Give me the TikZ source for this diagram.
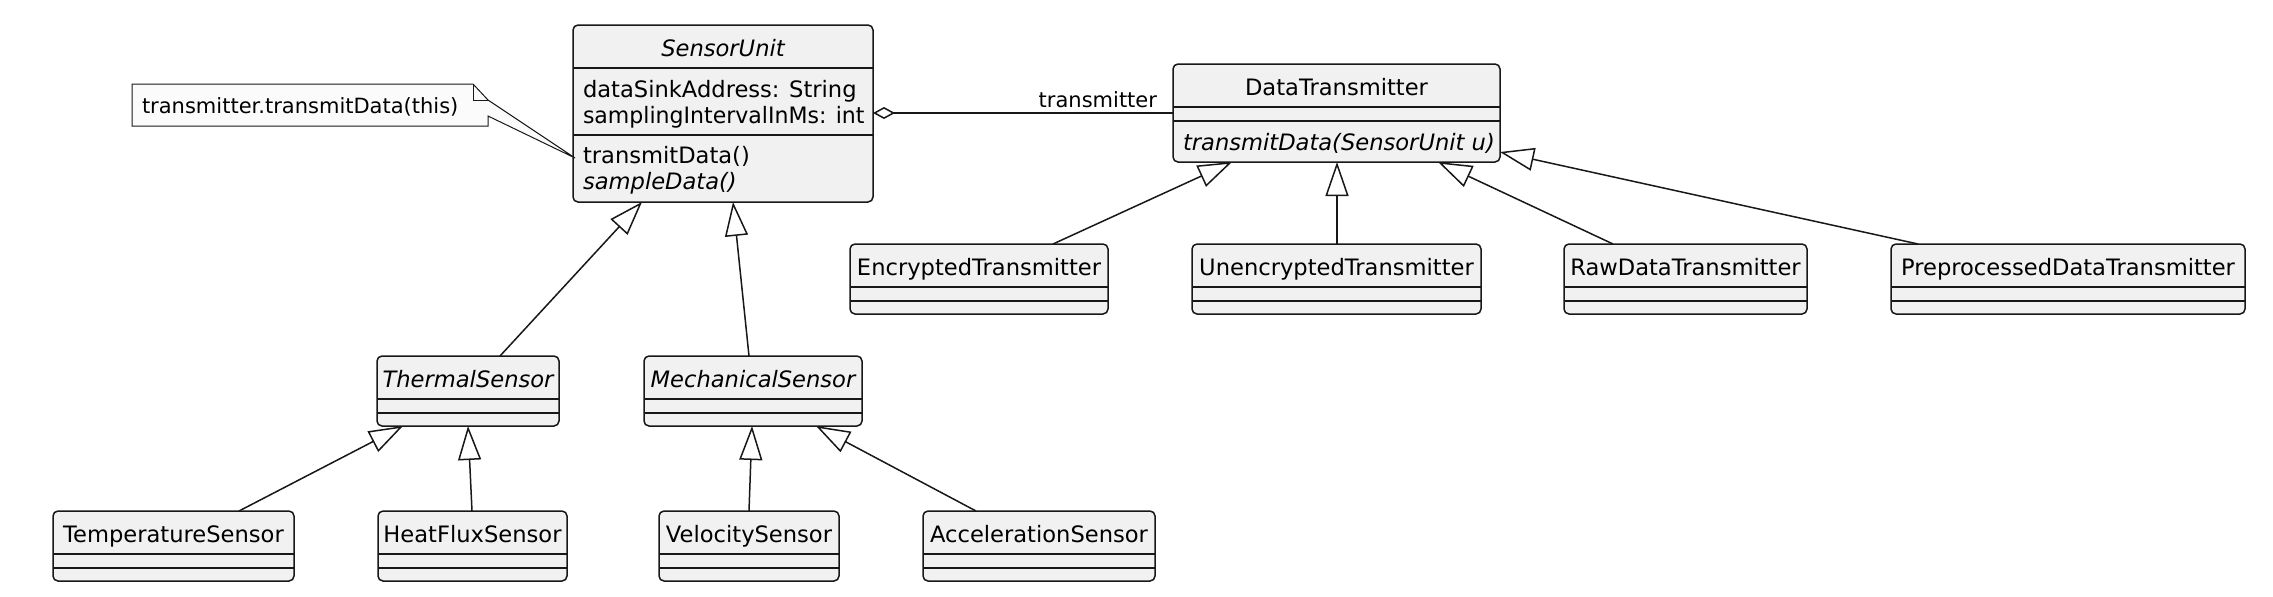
\documentclass[tikz,border=0pt]{standalone}
\usepackage{fontspec}
\setmainfont{DejaVu Sans}
\usetikzlibrary{arrows.meta,calc}
\definecolor{clsfill}{HTML}{F1F1F1}
\definecolor{clsline}{HTML}{181818}
\definecolor{notefill}{HTML}{FBFBFB}
\tikzset{
  clsbox/.style={rectangle, draw=clsline, fill=clsfill, line width=0.75pt, rounded corners=2.5pt, inner sep=0pt, outer sep=0pt},
  sepline/.style={draw=clsline, line width=0.6pt},
  ctext/.style={font=\fontsize{11.3}{13}\selectfont, inner sep=0pt, outer sep=0pt, anchor=base},
  ltext/.style={ctext, anchor=base west},
  smalltext/.style={font=\fontsize{10.5}{12}\selectfont, inner sep=0pt, outer sep=0pt},
  notebox/.style={draw=clsline, fill=notefill, line width=0.5pt, line join=miter},
  inherit/.style={draw=clsline, line width=0.75pt, -{Triangle[open, length=17pt, width=11.5pt]}},
  assoc/.style={draw=clsline, line width=0.75pt, {Diamond[open, length=11pt, width=6pt]}-}
}
\newcommand\umlbox[6]{%
  \node[clsbox, anchor=north west, minimum width={(#4-#2)*0.5pt}, minimum height={(#5-#3)*0.5pt}] (#1) at (#2,#3) {};
  \node[ctext] (#1-title) at ($(#1.north)+(0,31)$) {#6};
}
\newcommand\umlsep[2]{%
  \draw[sepline] ($(#1.north west)+(0,#2)$) -- ($(#1.north east)+(0,#2)$);
}
\newcommand\emptyseps[1]{\umlsep{#1}{43}\umlsep{#1}{57}}
\begin{document}
\begin{tikzpicture}[x=0.5pt, y=-0.5pt]
  \useasboundingbox (0,0) rectangle (2273,596);
  \fill[white] (0,0) rectangle (2273,596);

  % classes
  \umlbox{su}{573}{25}{873}{202}{\itshape SensorUnit}
  \umlsep{su}{43}\umlsep{su}{110}
  \node[ltext] (su-a1) at (583,97) {dataSinkAddress: String};
  \node[ltext] (su-a2) at (583,123) {\addfontfeature{FakeStretch=0.975}samplingIntervalInMs: int};
  \node[ltext] (su-m1) at (583,163) {transmitData()};
  \node[ltext] (su-m2) at (583,189) {\itshape sampleData()};

  \umlbox{dt}{1173}{64}{1500}{162}{DataTransmitter}
  \emptyseps{dt}
  \node[ltext] (dt-m1) at (1183,150) {\itshape transmitData(SensorUnit u)};

  \umlbox{enc}{850}{244}{1108}{314}{EncryptedTransmitter}\emptyseps{enc}
  \umlbox{unenc}{1192}{244}{1481}{314}{UnencryptedTransmitter}\emptyseps{unenc}
  \umlbox{raw}{1564}{244}{1807}{314}{RawDataTransmitter}\emptyseps{raw}
  \umlbox{pre}{1891}{244}{2245}{314}{PreprocessedDataTransmitter}\emptyseps{pre}

  \umlbox{th}{377}{356}{559}{426}{\itshape ThermalSensor}\emptyseps{th}
  \umlbox{me}{644}{356}{862}{426}{\itshape MechanicalSensor}\emptyseps{me}

  \umlbox{temp}{53}{511}{294}{581}{TemperatureSensor}\emptyseps{temp}
  \umlbox{hf}{378}{511}{567}{581}{HeatFluxSensor}\emptyseps{hf}
  \umlbox{vel}{659}{511}{839}{581}{VelocitySensor}\emptyseps{vel}
  \umlbox{acc}{923}{511}{1155}{581}{AccelerationSensor}\emptyseps{acc}

  % note
  \coordinate (notetip) at ($(su.north west)+(2,133)$);
  \draw[notebox] (132,84) -- (473,84) -- (488,100) -- (notetip) -- (488,116) -- (488,126) -- (132,126) -- cycle;
  \draw[notebox, fill=none] (473,84) -- (473,100) -- (488,100);
  \node[smalltext, anchor=base west] (note) at (142,113) {transmitter.transmitData(this)};

  % association
  \draw[assoc] ($(su.north east)+(0,88)$) -- ($(dt.north west)+(0,49)$);
  \node[smalltext, anchor=base east] (lbl) at (1157,107) {transmitter};

  % inheritance
  \draw[inherit] ($(th.north west)+(123,0)$) -- ($(su.south west)+(69,0)$);
  \draw[inherit] ($(me.north west)+(105,0)$) -- ($(su.south west)+(160,0)$);
  \draw[inherit] ($(temp.north west)+(186,0)$) -- ($(th.south west)+(26,0)$);
  \draw[inherit] ($(hf.north west)+(94,0)$) -- ($(th.south west)+(91,0)$);
  \draw[inherit] ($(vel.north west)+(90,0)$) -- ($(me.south west)+(108,0)$);
  \draw[inherit] ($(acc.north west)+(53,0)$) -- ($(me.south west)+(172,0)$);
  \draw[inherit] ($(enc.north west)+(203,0)$) -- ($(dt.south west)+(59,0)$);
  \draw[inherit] ($(unenc.north west)+(145,0)$) -- ($(dt.south west)+(164,0)$);
  \draw[inherit] ($(raw.north west)+(49,0)$) -- ($(dt.south west)+(265,0)$);
  \draw[inherit] ($(pre.north west)+(27,0)$) -- ($(dt.south east)+(0,-10)$);
\end{tikzpicture}
\end{document}
